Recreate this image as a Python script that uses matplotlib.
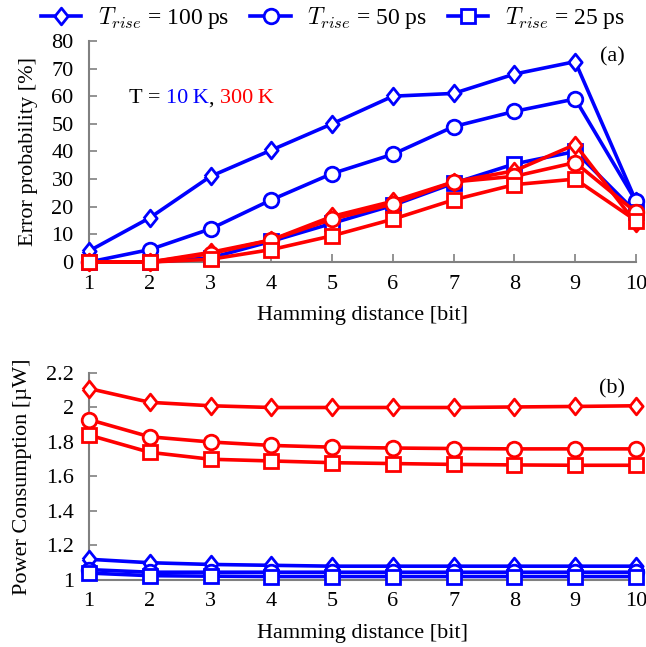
import matplotlib
matplotlib.use("Agg")
import matplotlib.pyplot as plt
from matplotlib.lines import Line2D

plt.rcParams['font.family'] = ['Liberation Serif', 'DejaVu Serif']
plt.rcParams['mathtext.fontset'] = 'cm'
plt.rcParams['font.size'] = 16

hamming = [1, 2, 3, 4, 5, 6, 7, 8, 9, 10]
rise_labels = ['100', '50', '25']

# Error probability [%]
err_10K_100 = [4, 16, 31, 40.5, 50, 60, 61, 68, 72.5, 22]
err_10K_50 = [0, 4.5, 12, 22.5, 32, 39, 49, 54.5, 59, 22]
err_10K_25 = [0, 0, 1.5, 7.5, 14, 20.5, 28.5, 35.5, 40, 18]
err_300K_100 = [0, 0, 3.5, 8, 16.5, 22, 29, 33, 42.5, 14]
err_300K_50 = [0, 0, 3, 8, 15.5, 21, 29, 31, 36, 18]
err_300K_25 = [0, 0, 1, 4.5, 9.5, 15.5, 22.5, 28, 30, 15]

# Power consumption [uW]
pow_10K_100 = [1.12, 1.10, 1.09, 1.085, 1.08, 1.08, 1.08, 1.08, 1.08, 1.08]
pow_10K_50 = [1.06, 1.045, 1.045, 1.045, 1.045, 1.045, 1.045, 1.045, 1.045, 1.045]
pow_10K_25 = [1.04, 1.025, 1.022, 1.02, 1.02, 1.02, 1.02, 1.02, 1.02, 1.02]
pow_300K_100 = [2.11, 2.03, 2.01, 2.0, 2.0, 2.0, 2.0, 2.003, 2.006, 2.01]
pow_300K_50 = [1.93, 1.83, 1.80, 1.78, 1.77, 1.765, 1.762, 1.76, 1.76, 1.76]
pow_300K_25 = [1.84, 1.74, 1.70, 1.69, 1.68, 1.675, 1.67, 1.667, 1.665, 1.665]

BLUE = '#0000ff'
RED = '#ff0000'
GRAY = '#808080'
diamond = [(-0.8, 0), (0, 1), (0.8, 0), (0, -1), (-0.8, 0)]
markers = [diamond, 'o', 's']
msizes = [12, 10.5, 10]
LW = 2.6
MEW = 2.0

fig = plt.figure(figsize=(6.46, 6.47), dpi=100)
ax1 = fig.add_axes([0.1378, 0.595, 0.8467, 0.3418])
ax2 = fig.add_axes([0.1378, 0.1036, 0.8467, 0.3199])


def style(ax):
    for s in ['top', 'right']:
        ax.spines[s].set_visible(False)
    for s in ['left', 'bottom']:
        ax.spines[s].set_color(GRAY)
        ax.spines[s].set_linewidth(1.5)
    ax.tick_params(direction='in', length=6, width=1.2, color=GRAY, labelsize=16)
    ax.tick_params(axis='x', pad=9)
    ax.tick_params(axis='y', pad=11)
    ax.set_xlim(1, 10)
    ax.set_xticks(hamming)


def draw(ax, series, color, z):
    for ys, m, ms in zip(series, markers, msizes):
        ax.plot(hamming, ys, color=color, lw=LW, marker=m, ms=ms, mew=MEW,
                mfc='white', mec=color, clip_on=False, zorder=z)


style(ax1)
draw(ax1, [err_10K_100, err_10K_50, err_10K_25], BLUE, 3)
draw(ax1, [err_300K_100, err_300K_50, err_300K_25], RED, 4)
ax1.set_ylim(0, 80)
ax1.set_yticks(range(0, 81, 10))
ax1.set_xlabel('Hamming distance [bit]', fontsize=16, labelpad=9)
ax1.set_ylabel('Error probability [%]', fontsize=16, labelpad=10)
ax1.text(0.98, 0.97, '(a)', transform=ax1.transAxes, ha='right', va='top', fontsize=16)

t0 = ax1.text(1.65, 59, 'T = ', color='black', fontsize=16, va='center')
t1 = ax1.annotate('10\u2009K', xy=(1, 0), xycoords=t0, color=BLUE, fontsize=16, va='bottom')
t2 = ax1.annotate(', ', xy=(1, 0), xycoords=t1, color='black', fontsize=16, va='bottom')
t3 = ax1.annotate('300\u2009K', xy=(1, 0), xycoords=t2, color=RED, fontsize=16, va='bottom')

style(ax2)
draw(ax2, [pow_10K_100, pow_10K_50, pow_10K_25], BLUE, 3)
draw(ax2, [pow_300K_100, pow_300K_50, pow_300K_25], RED, 4)
ax2.set_ylim(1, 2.2)
ax2.set_yticks([1, 1.2, 1.4, 1.6, 1.8, 2, 2.2])
ax2.set_yticklabels(['1', '1.2', '1.4', '1.6', '1.8', '2', '2.2'])
ax2.set_xlabel('Hamming distance [bit]', fontsize=16, labelpad=9)
ax2.set_ylabel('Power Consumption [\u00b5W]', fontsize=16, labelpad=10)
ax2.text(0.98, 0.97, '(b)', transform=ax2.transAxes, ha='right', va='top', fontsize=16)

handles = [Line2D([], [], color=BLUE, lw=LW, marker=m, ms=ms, mew=MEW, mfc='white', mec=BLUE)
           for m, ms in zip(markers, msizes)]
labels = [r'$T_{rise}$ = ' + r + '\u2009ps' for r in rise_labels]
fig.legend(handles, labels, loc='center', bbox_to_anchor=(0.515, 0.972), ncol=3,
           frameon=False, fontsize=17, handlelength=1.7, columnspacing=0.9,
           handletextpad=0.7, borderpad=0, borderaxespad=0)

fig.savefig('out.png', dpi=100)
